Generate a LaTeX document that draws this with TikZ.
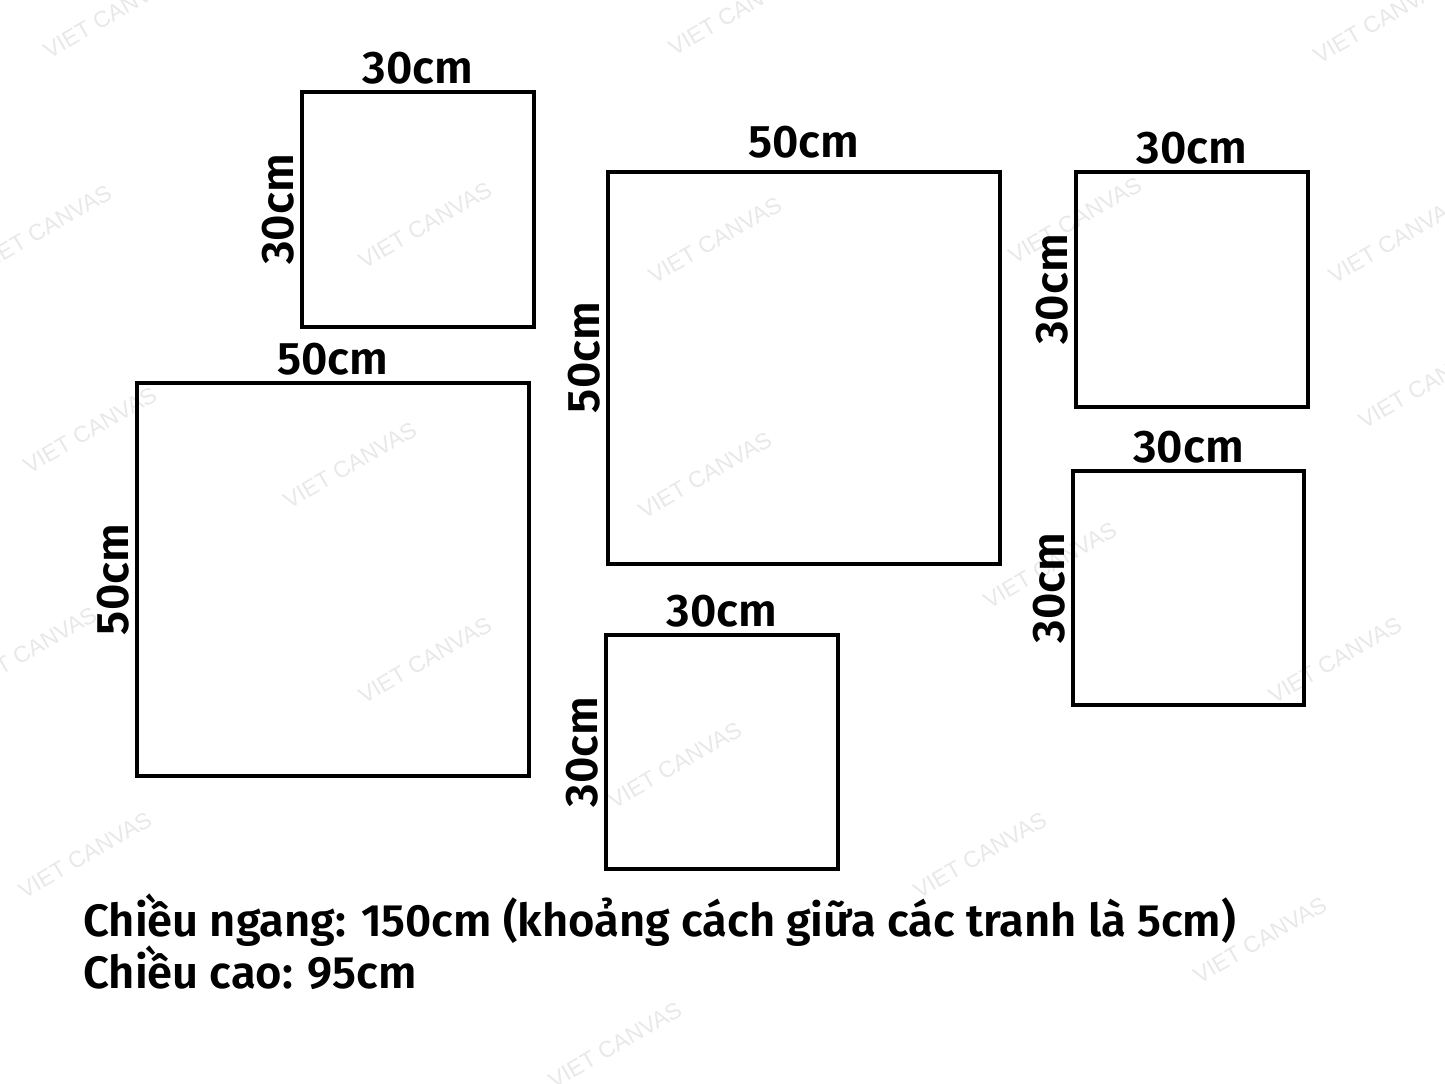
\documentclass[tikz,border=0pt]{standalone}
\usepackage{fontspec}
\setmainfont{Fira Sans}[UprightFont={* SemiBold}]
\newfontfamily\wmfont{Liberation Sans}
\usetikzlibrary{positioning}

\begin{document}
\begin{tikzpicture}
    [x=0.02cm, y=-0.02cm,
    canvas/.style={rectangle, draw, line width=0.08cm, inner sep=0pt},
    smallcanvas/.style={canvas, minimum width=4.64cm, minimum height=4.70cm},
    bigcanvas/.style={canvas, minimum width=7.84cm, minimum height=7.86cm},
    size/.style={font=\fontsize{26}{26}\selectfont, inner sep=1pt},
    sidesize/.style={size, rotate=90, anchor=south, inner sep=3pt},
    note/.style={font=\fontsize{25.8}{26}\selectfont, anchor=base west, inner sep=0pt},
    watermark/.style={text=black!9, rotate=30, font=\wmfont\fontsize{13}{13}\selectfont}]
    \useasboundingbox (0,0) rectangle (1445,1084);

    % faint watermark
    \foreach \wx/\wy in {110/15, 735/12, 1380/20, 45/228, 425/225, 715/240, 1075/220,
      1395/240, 1425/385, 90/430, 350/465, 705/475, 1050/565, 30/650, 425/660,
      1335/660, 675/765, 85/855, 980/855, 1260/940, 615/1045}
      \node [watermark] at (\wx,\wy) {VIET CANVAS};

    % canvases
    \node [smallcanvas] (top_left) at (418,209.5) {};
    \node [bigcanvas] (big_left) at (333,579.5) {};
    \node [bigcanvas] (big_mid) at (804,368) {};
    \node [smallcanvas] (top_right) at (1192,289.5) {};
    \node [smallcanvas] (low_right) at (1188.5,588) {};
    \node [smallcanvas] (low_mid) at (722,752) {};

    % sizes
    \node [size, above=2pt of top_left] {30cm};
    \node [sidesize] at (top_left.west) {30cm};
    \node [size, above=2pt of big_left] {50cm};
    \node [sidesize] at (big_left.west) {50cm};
    \node [size, above=5pt of big_mid] {50cm};
    \node [sidesize] at ([yshift=6pt]big_mid.west) {50cm};
    \node [size, above=2pt of top_right] {30cm};
    \node [sidesize] at (top_right.west) {30cm};
    \node [size, above=2pt of low_right] {30cm};
    \node [sidesize] at (low_right.west) {30cm};
    \node [size, above=2pt of low_mid] {30cm};
    \node [sidesize] at (low_mid.west) {30cm};

    \node [note] (width_note) at (83,936) {Chiều ngang: 150cm (khoảng cách giữa các tranh là 5cm)};
    \node [note] (height_note) at (83,988) {Chiều cao: 95cm};
\end{tikzpicture}
\end{document}
